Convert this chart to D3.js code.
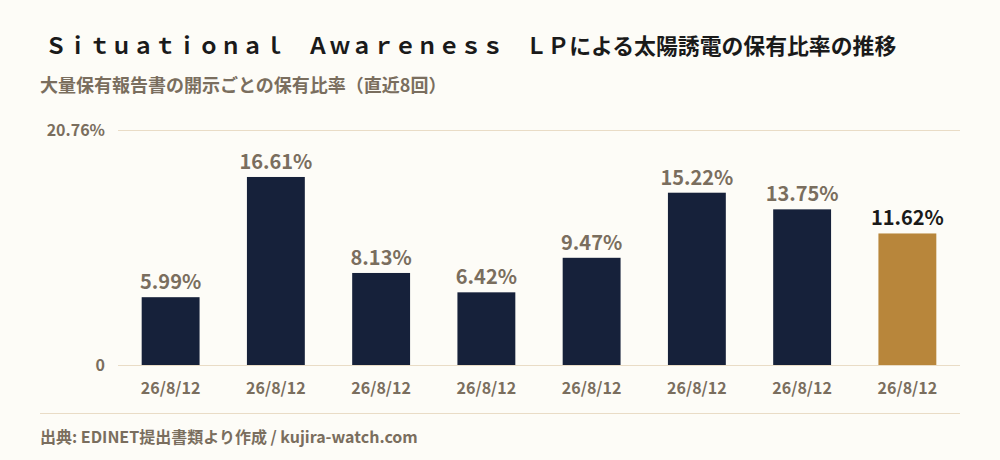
<!DOCTYPE html>
<html>
<head>
<meta charset="utf-8">
<script src="https://cdn.jsdelivr.net/npm/d3@7"></script>
<style>
  html, body { margin: 0; padding: 0; background: #fdfcf7; }
  svg { display: block; font-family: "Noto Sans CJK JP", "Noto Sans", sans-serif; }
</style>
</head>
<body>
<div id="chart"></div>
<script>
// data
var dates = ["26/8/12", "26/8/12", "26/8/12", "26/8/12", "26/8/12", "26/8/12", "26/8/12", "26/8/12"];
var ratios = [5.99, 16.61, 8.13, 6.42, 9.47, 15.22, 13.75, 11.62];
var yTicks = [0, 20.76];

var titleText = "Ｓｉｔｕａｔｉｏｎａｌ　Ａｗａｒｅｎｅｓｓ　ＬＰによる太陽誘電の保有比率の推移";
var subtitleText = "大量保有報告書の開示ごとの保有比率（直近8回）";
var sourceText = "出典: EDINET提出書類より作成 / kujira-watch.com";

var width = 1000,
    height = 460;

var margin = { left: 118, right: 40, top: 130, bottom: 95 };

var svg = d3.select("#chart")
            .append("svg")
            .attr("width", width)
            .attr("height", height);

svg.append("rect")
   .attr("width", width)
   .attr("height", height)
   .attr("fill", "#fdfcf7");

var x = d3.scaleBand()
          .domain(d3.range(ratios.length))
          .range([margin.left, width - margin.right])
          .paddingInner(0.45)
          .paddingOuter(0.225);

var y = d3.scaleLinear()
          .domain([0, yTicks[1]])
          .range([height - margin.bottom, margin.top]);

// title + subtitle
svg.append("text")
   .attr("x", 45)
   .attr("y", 54)
   .attr("font-size", 21.85)
   .attr("font-weight", 700)
   .attr("fill", "#1a1a1a")
   .text(titleText);

svg.append("text")
   .attr("x", 40)
   .attr("y", 92)
   .attr("font-size", 18)
   .attr("font-weight", 700)
   .attr("fill", "#7a6e5e")
   .text(subtitleText);

// gridlines
svg.append("g").selectAll("line")
   .data(yTicks)
   .enter()
   .append("line")
   .attr("x1", margin.left)
   .attr("x2", width - margin.right)
   .attr("y1", function (d) { return y(d) + 0.5; })
   .attr("y2", function (d) { return y(d) + 0.5; })
   .attr("stroke", "#e9dcc6")
   .attr("stroke-width", 1);

// y tick labels
svg.append("g").selectAll("text")
   .data(yTicks)
   .enter()
   .append("text")
   .attr("x", 105)
   .attr("y", function (d) { return y(d) + 6; })
   .attr("text-anchor", "end")
   .attr("font-size", 16)
   .attr("font-weight", 700)
   .attr("fill", "#7a6e5e")
   .text(function (d) { return d === 0 ? "0" : d.toFixed(2) + "%"; });

var last = ratios.length - 1;

// bars
svg.append("g").selectAll("rect")
   .data(ratios)
   .enter()
   .append("rect")
   .attr("x", function (d, i) { return x(i); })
   .attr("y", function (d) { return y(d); })
   .attr("width", x.bandwidth())
   .attr("height", function (d) { return y(0) - y(d); })
   .attr("fill", function (d, i) { return i === last ? "#b8863b" : "#16213a"; });

// value labels
svg.append("g").selectAll("text")
   .data(ratios)
   .enter()
   .append("text")
   .attr("x", function (d, i) { return x(i) + x.bandwidth() / 2; })
   .attr("y", function (d) { return y(d) - 8; })
   .attr("text-anchor", "middle")
   .attr("font-size", 20)
   .attr("font-weight", 700)
   .attr("fill", function (d, i) { return i === last ? "#1a1a1a" : "#7a6e5e"; })
   .text(function (d) { return d.toFixed(2) + "%"; });

// x labels
svg.append("g").selectAll("text")
   .data(dates)
   .enter()
   .append("text")
   .attr("x", function (d, i) { return x(i) + x.bandwidth() / 2; })
   .attr("y", y(0) + 29)
   .attr("text-anchor", "middle")
   .attr("font-size", 16)
   .attr("font-weight", 700)
   .attr("fill", "#7a6e5e")
   .text(function (d) { return d; });

// footer
svg.append("line")
   .attr("x1", 40)
   .attr("x2", width - margin.right)
   .attr("y1", 413.5)
   .attr("y2", 413.5)
   .attr("stroke", "#e9dcc6")
   .attr("stroke-width", 1);

svg.append("text")
   .attr("x", 40)
   .attr("y", 443)
   .attr("font-size", 16)
   .attr("font-weight", 700)
   .attr("fill", "#7a6e5e")
   .text(sourceText);
</script>
</body>
</html>
